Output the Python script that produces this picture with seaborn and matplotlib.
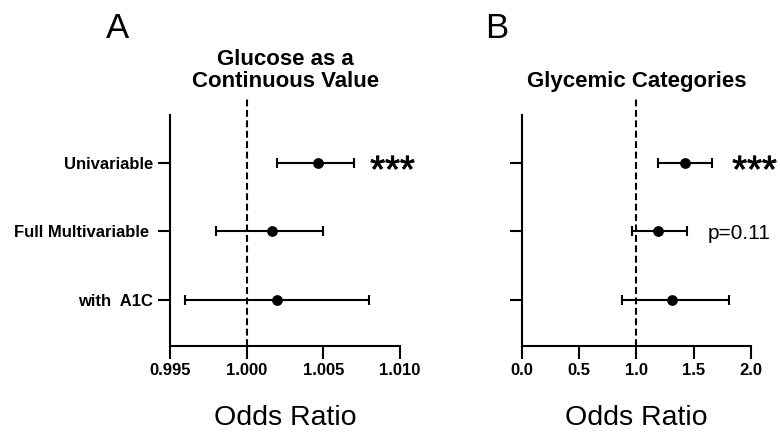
import matplotlib
matplotlib.use("Agg")
import matplotlib.pyplot as plt
import matplotlib.patheffects as pe
import seaborn as sns
import pandas as pd
import numpy as np

# ---- data ----
models = ["Univariable", "Full Multivariable ", "with  A1C"]
or_a = [1.00467, 1.00167, 1.00200]
lo_a = [1.00200, 0.99800, 0.99600]
hi_a = [1.00700, 1.00500, 1.00800]
or_b = [1.42, 1.19, 1.31]
lo_b = [1.19, 0.965, 0.87]
hi_b = [1.66, 1.44, 1.81]
xticks_a = [0.995, 1.000, 1.005, 1.010]
xticklabels_a = ["0.995", "1.000", "1.005", "1.010"]
xticks_b = [0.0, 0.5, 1.0, 1.5, 2.0]
xticklabels_b = ["0.0", "0.5", "1.0", "1.5", "2.0"]
titles = ["Glucose as a\nContinuous Value", "Glycemic Categories"]
letters = ["A", "B"]

sns.set_style("ticks")
plt.rcParams["font.family"] = ["Liberation Sans", "DejaVu Sans"]
for k in ["text.color", "axes.labelcolor", "xtick.color", "ytick.color", "axes.edgecolor"]:
    plt.rcParams[k] = "black"

fig = plt.figure(figsize=(7.8, 4.34), dpi=100)
ax_a = fig.add_axes([0.218, 0.203, 0.295, 0.532])
ax_b = fig.add_axes([0.669, 0.203, 0.294, 0.532])

panels = [
    (ax_a, or_a, lo_a, hi_a, xticks_a, xticklabels_a, (0.995, 1.010), True),
    (ax_b, or_b, lo_b, hi_b, xticks_b, xticklabels_b, (0.0, 2.0), False),
]

for i, (ax, ors, los, his, xt, xtl, xlim, show_y) in enumerate(panels):
    df = pd.DataFrame({"model": models, "OR": ors, "lo": los, "hi": his})
    ax.errorbar(x=df["OR"], y=df["model"],
                xerr=[df["OR"] - df["lo"], df["hi"] - df["OR"]],
                fmt="none", ecolor="black", elinewidth=1.5,
                capsize=3.6, capthick=1.5, zorder=2)
    sns.scatterplot(data=df, x="OR", y="model", ax=ax, color="black",
                    s=60, edgecolor="black", linewidth=0, zorder=3)
    ax.axvline(1.0, ymin=0, ymax=1.07, clip_on=False, color="black",
               lw=1.5, ls=(0, (3.3, 1.7)), zorder=1)
    ax.set_xlim(*xlim)
    ax.set_ylim(2.67, -0.7)
    ax.set_xticks(xt)
    ax.set_xticklabels(xtl, fontsize=12, fontweight="bold")
    ax.set_yticks(range(len(models)))
    if show_y:
        ax.set_yticklabels(models, fontsize=12, fontweight="bold")
    else:
        ax.set_yticklabels([""] * len(models))
    ax.set_ylabel("")
    ax.set_xlabel("Odds Ratio", fontsize=20.5, labelpad=20)
    ax.tick_params(direction="out", length=9, width=1.5, colors="black", pad=3)
    for s in ["left", "bottom"]:
        ax.spines[s].set_linewidth(1.5)
        ax.spines[s].set_color("black")
    sns.despine(ax=ax)
    ax.set_title(titles[i], fontsize=16, fontweight="bold", pad=20, linespacing=1.05)

# annotations
thick = [pe.withStroke(linewidth=0.6, foreground="black")]
ax_a.text(1.00805, 0.28, "***", fontsize=27.5, ha="left", va="baseline",
          clip_on=False, path_effects=thick)
ax_b.text(1.835, 0.28, "***", fontsize=27.5, ha="left", va="baseline",
          clip_on=False, path_effects=thick)
ax_b.text(1.617, 1.117, "p=0.11", fontsize=15, ha="left", va="baseline", clip_on=False)

fig.text(118 / 780, 1 - 28 / 434, letters[0], fontsize=25, ha="center", va="center")
fig.text(497 / 780, 1 - 28 / 434, letters[1], fontsize=25, ha="center", va="center")

fig.savefig("out.png", dpi=100)
